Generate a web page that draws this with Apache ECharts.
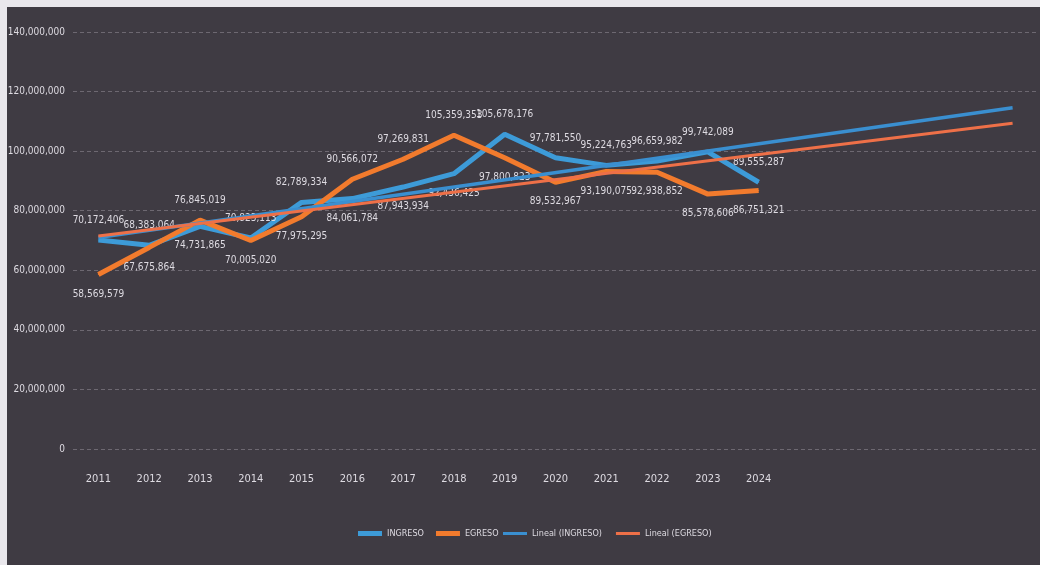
<!DOCTYPE html>
<html>
<head>
<meta charset="utf-8">
<script src="https://cdn.jsdelivr.net/npm/echarts@6/dist/echarts.min.js"></script>
<style>
  html, body { margin: 0; padding: 0; background: #e9e7ec; width: 1040px; height: 565px; overflow: hidden; }
  #chart { position: absolute; left: 7px; top: 7px; width: 1033px; height: 558px; background: #3f3b43; }
</style>
</head>
<body>
<div id="chart"></div>
<script>
// Categories (last five are the empty forecast periods of the trendlines)
const categories = ['2011','2012','2013','2014','2015','2016','2017','2018','2019','2020','2021','2022','2023','2024','','','','',''];
const INGRESO = [70172406, 68383064, 74731865, 70823113, 82789334, 84061784, 87943934, 92436425, 105678176, 97781550, 95224763, 96659982, 99742089, 89555287];
const EGRESO  = [58569579, 67675864, 76845019, 70005020, 77975295, 90566072, 97269831, 105359353, 97800823, 89532967, 93190075, 92938852, 85578606, 86751321];
// Linear trendline end points (first category, last forecast category)
const TREND_INGRESO = [71000000, 114600000];
const TREND_EGRESO  = [71500000, 109400000];
const yTicks = [0, 20000000, 40000000, 60000000, 80000000, 100000000, 120000000, 140000000];

const seriesNames = ['INGRESO', 'EGRESO', 'Lineal (INGRESO)', 'Lineal (EGRESO)'];
const fmt = v => Number(v).toLocaleString('en-US');
const FONT = '"DejaVu Sans Condensed", "Liberation Sans Narrow", sans-serif';
const textColor = '#dedbe2';

const chart = echarts.init(document.getElementById('chart'));

const ingData = INGRESO.map((v, i) => ({ value: v, label: { position: v >= EGRESO[i] ? 'top' : 'bottom' } }));
const egrData = EGRESO.map((v, i) => ({ value: v, label: { position: v > INGRESO[i] ? 'top' : 'bottom' } }));
const last = categories.length - 1;

const dataLabel = {
  show: true, color: textColor, fontFamily: FONT, fontSize: 10, distance: 14,
  formatter: p => fmt(p.value)
};

chart.setOption({
  backgroundColor: '#3f3b43',
  animation: false,
  grid: { left: 66, right: 2, top: 25, bottom: 116, outerBoundsMode: 'none' },
  xAxis: {
    type: 'category', data: categories, boundaryGap: true,
    axisLine: { show: false }, axisTick: { show: false },
    axisLabel: { color: textColor, fontFamily: FONT, fontSize: 11, margin: 25 }
  },
  yAxis: {
    type: 'value', min: yTicks[0], max: yTicks[yTicks.length - 1], interval: yTicks[1] - yTicks[0],
    axisLine: { show: false }, axisTick: { show: false },
    axisLabel: { color: textColor, fontFamily: FONT, fontSize: 10, margin: 8, formatter: v => fmt(v) },
    splitLine: { lineStyle: { color: 'rgba(190,186,196,0.36)', width: 1, type: [4, 3] } }
  },
  legend: [
    {
      left: 351, top: 522, padding: 0, itemWidth: 24, itemHeight: 5, itemGap: 12, icon: 'rect',
      textStyle: { color: textColor, fontFamily: FONT, fontSize: 9 },
      data: [seriesNames[0], seriesNames[1]]
    },
    {
      left: 496, top: 522, padding: 0, itemWidth: 24, itemHeight: 3, itemGap: 14, icon: 'rect',
      textStyle: { color: textColor, fontFamily: FONT, fontSize: 9 },
      data: [seriesNames[2], seriesNames[3]]
    }
  ],
  series: [
    { name: seriesNames[0], type: 'line', data: ingData, symbol: 'circle', symbolSize: 1, z: 2,
      lineStyle: { color: '#3d9bd8', width: 5 }, itemStyle: { color: '#3d9bd8' }, label: dataLabel },
    { name: seriesNames[1], type: 'line', data: egrData, symbol: 'circle', symbolSize: 1, z: 3,
      lineStyle: { color: '#f27b2d', width: 5 }, itemStyle: { color: '#f27b2d' }, label: dataLabel },
    { name: seriesNames[2], type: 'line', data: [[0, TREND_INGRESO[0]], [last, TREND_INGRESO[1]]], symbol: 'none', z: 4,
      lineStyle: { color: '#3a8fd0', width: 3.5 }, itemStyle: { color: '#3a8fd0' } },
    { name: seriesNames[3], type: 'line', data: [[0, TREND_EGRESO[0]], [last, TREND_EGRESO[1]]], symbol: 'none', z: 4,
      lineStyle: { color: '#ee7048', width: 3 }, itemStyle: { color: '#ee7048' } }
  ]
});
</script>
</body>
</html>
